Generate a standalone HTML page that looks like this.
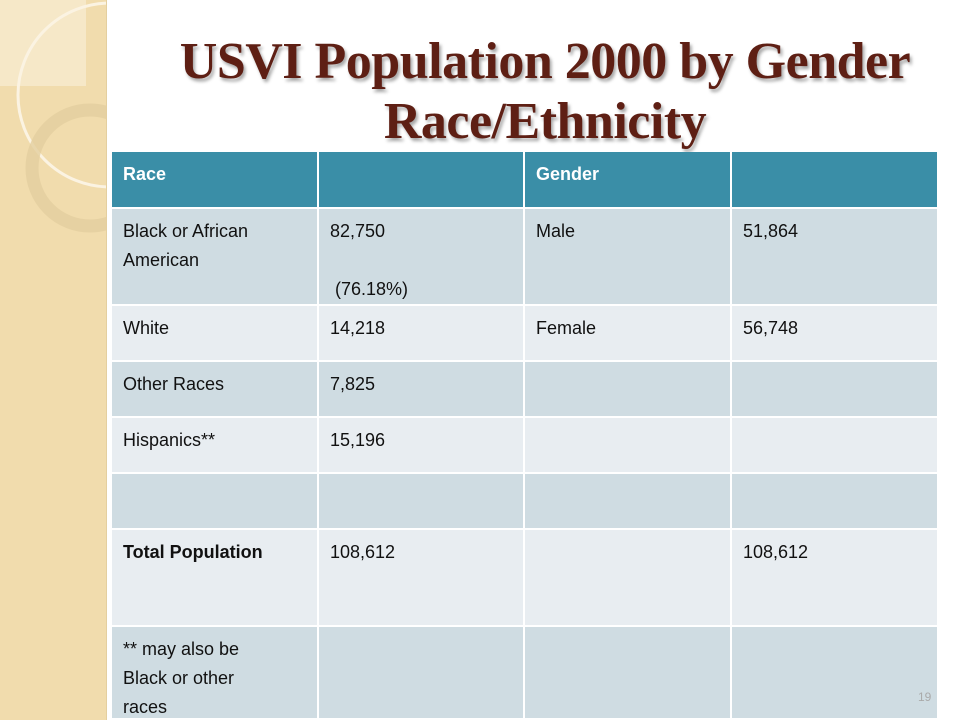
<!DOCTYPE html>
<html><head><meta charset="utf-8"><style>
body{margin:0;width:960px;height:720px;overflow:hidden;background:#fff;position:relative;font-family:"Liberation Sans",sans-serif}
.strip{position:absolute;left:0;top:0;width:106px;height:720px;background:#F1DCAD;border-right:1px solid #e4cf9f}
.title{position:absolute;left:120px;width:850px;text-align:center;font-family:"Liberation Serif",serif;font-weight:bold;font-size:52px;color:#5E1F14;text-shadow:2px 3px 3px rgba(0,0,0,0.35);line-height:60px;top:32px;letter-spacing:-0.5px}
.cell{position:absolute;box-sizing:border-box;padding:8px 11px;font-size:18px;line-height:29px;color:#111}
.hd{background:#3A8EA7;color:#fff;font-weight:bold}
.dk{background:#CFDCE2}
.lt{background:#E8EDF1}
.pg{position:absolute;left:918px;top:690px;font-size:12px;color:#aaa}
</style></head><body>
<div class="strip">
<svg width="106" height="720">
<rect x="0" y="0" width="86" height="86" fill="#F6E8C8"/>
<circle cx="110" cy="95" r="92" fill="none" stroke="#FBF3E2" stroke-width="3"/>
<circle cx="90" cy="168" r="58" fill="none" stroke="#E3CE9F" stroke-width="13" opacity="0.8"/>
</svg></div>
<div class="title">USVI Population 2000 by Gender<br>Race/Ethnicity</div>
<div id="tbl"></div>
<div class="pg">19</div>
<script>
const cols=[112,319,525,732,937];
const rows=[152,209,306,362,418,474,530,627,720];
const rowCls=['hd','dk','lt','dk','lt','dk','lt','dk'];
const cells=[
['Race','','Gender',''],
['Black or African<br>American','82,750<br><br>&nbsp;(76.18%)','Male','51,864'],
['White','14,218','Female','56,748'],
['Other Races','7,825','',''],
['Hispanics**','15,196','',''],
['','','',''],
['<b>Total Population</b>','108,612','','108,612'],
['** may also be<br>Black or other<br>races','','','']
];
const t=document.getElementById('tbl');
for(let r=0;r<cells.length;r++){for(let c=0;c<4;c++){
const d=document.createElement('div');
d.className='cell '+rowCls[r];
d.style.left=cols[c]+'px';d.style.top=rows[r]+'px';
d.style.width=(cols[c+1]-cols[c]-(c<3?2:0))+'px';
d.style.height=(rows[r+1]-rows[r]-2)+'px';
d.innerHTML=cells[r][c];


t.appendChild(d);}}
</script>
</body></html>
